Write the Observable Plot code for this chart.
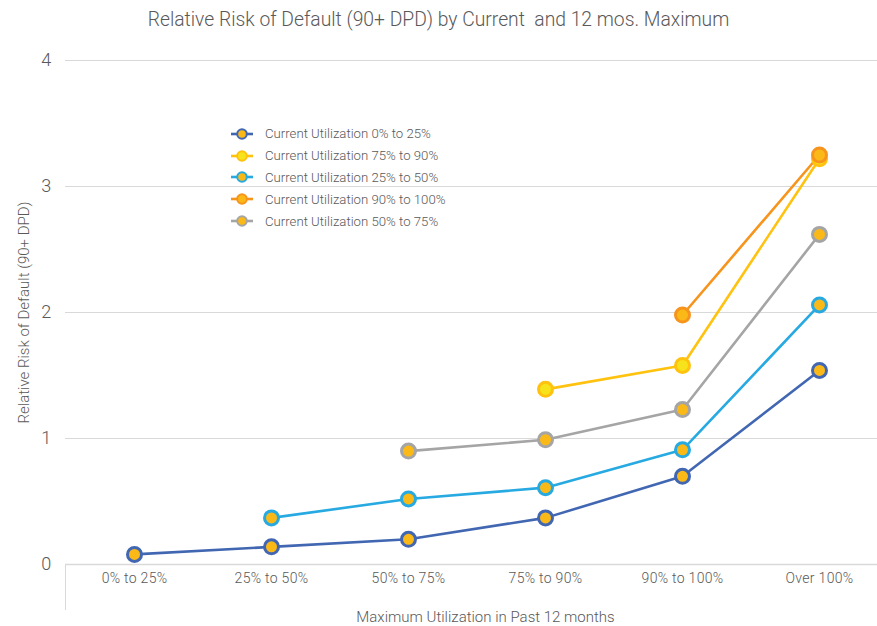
<!DOCTYPE html>
<html>
<head>
<meta charset="utf-8">
<script src="https://cdn.jsdelivr.net/npm/d3@7"></script>
<script src="https://cdn.jsdelivr.net/npm/@observablehq/plot@0.6"></script>
<style>
  body { margin: 0; background: #fff; }
  #wrap { position: relative; width: 877px; height: 626px; font-family: Roboto, sans-serif; font-weight: 300; color: #595959; }
  #title { position: absolute; left: 0; width: 877px; top: 8px; text-align: center; font-size: 19.3px; color: #595959; }
  #chart { position: absolute; left: 0; top: 40px; }
  #legend { position: absolute; left: 230px; top: 123px; font-size: 13.2px; color: #595959; }
  .li { display: flex; align-items: center; height: 21.8px; }
  .li svg { margin-right: 11px; }
  #vtick { position: absolute; left: 65px; top: 564px; height: 46px; border-left: 1px solid #d9d9d9; }
  #chart svg text { font-weight: 300; }
</style>
</head>
<body>
<div id="wrap">
  <div id="title">Relative Risk of Default (90+ DPD) by Current&nbsp; and 12 mos. Maximum</div>
  <div id="chart"></div>
  <div id="vtick"></div>
  <div id="legend"></div>
</div>
<script>
const categories = ["0% to 25%", "25% to 50%", "50% to 75%", "75% to 90%", "90% to 100%", "Over 100%"];
const seriesNames = [
  "Current Utilization 0% to 25%",
  "Current Utilization 75% to 90%",
  "Current Utilization 25% to 50%",
  "Current Utilization 90% to 100%",
  "Current Utilization 50% to 75%"
];
const util0to25   = [0.08, 0.14, 0.20, 0.37, 0.70, 1.54];
const util75to90  = [null, null, null, 1.39, 1.58, 3.22];
const util25to50  = [null, 0.37, 0.52, 0.61, 0.91, 2.06];
const util90to100 = [null, null, null, null, 1.98, 3.25];
const util50to75  = [null, null, 0.90, 0.99, 1.23, 2.62];
const seriesValues = [util0to25, util75to90, util25to50, util90to100, util50to75];
const lineColors = ["#4267B2", "#FFC20E", "#27A9E1", "#F7941D", "#A5A5A5"];
const markerFills = ["#FBB917", "#F6E31B", "#FBB917", "#FBB917", "#FBB917"];
const yTicks = [0, 1, 2, 3, 4];

const data = [];
seriesNames.forEach((s, i) => {
  seriesValues[i].forEach((v, j) => {
    if (v != null) data.push({series: s, cat: categories[j], value: v, fill: markerFills[i]});
  });
});

const chart = Plot.plot({
  width: 877,
  height: 586,
  marginTop: 20,
  marginBottom: 62,
  marginLeft: 65,
  marginRight: 0,
  style: {fontFamily: 'Roboto, sans-serif', color: "#595959", background: "white"},
  x: {type: "point", domain: categories, range: [133, 820], padding: 0},
  y: {domain: [0, 4]},
  color: {domain: seriesNames, range: lineColors},
  marks: [
    Plot.gridY(yTicks, {stroke: "#d9d9d9", strokeOpacity: 1, strokeWidth: 1}),
    Plot.axisY(yTicks, {tickSize: 0, tickPadding: 14, fontSize: 18, fill: "#595959", tickFormat: "d",
      label: null}),
    Plot.axisY({ticks: [], tickSize: 0, fontSize: 15,
      label: "Relative Risk of Default (90+ DPD)", labelAnchor: "center", labelOffset: 47, labelArrow: "none"}),
    Plot.axisX({tickSize: 0, tickPadding: 9, fontSize: 14, fill: "#595959", label: null}),
    Plot.axisX({ticks: [], tickSize: 0, fontSize: 15,
      label: "Maximum Utilization in Past 12 months", labelAnchor: "center", labelOffset: 57, labelArrow: "none"}),
    Plot.ruleY([0], {stroke: "#d9d9d9", strokeWidth: 1.5}),
    Plot.line(data, {x: "cat", y: "value", z: "series", stroke: "series", strokeWidth: 2.6}),
    Plot.dot(data, {x: "cat", y: "value", stroke: "series", fill: "fill", r: 7, strokeWidth: 3})
  ]
});
chart.querySelectorAll("[aria-label='y-axis tick label'] text, [aria-label='x-axis tick label'] text").forEach(t => t.style.letterSpacing = "0.3px");
chart.querySelectorAll("[aria-label='x-axis label'] text").forEach(t => t.setAttribute("dx", 14));
document.getElementById("chart").appendChild(chart);

const legend = document.getElementById("legend");
seriesNames.forEach((s, i) => {
  const row = document.createElement("div");
  row.className = "li";
  row.innerHTML = `<svg width="24" height="14"><line x1="1" x2="23" y1="7" y2="7" stroke="${lineColors[i]}" stroke-width="2.6"/><circle cx="12" cy="7" r="4.8" fill="${markerFills[i]}" stroke="${lineColors[i]}" stroke-width="2"/></svg><span>${s}</span>`;
  legend.appendChild(row);
});
</script>
</body>
</html>
